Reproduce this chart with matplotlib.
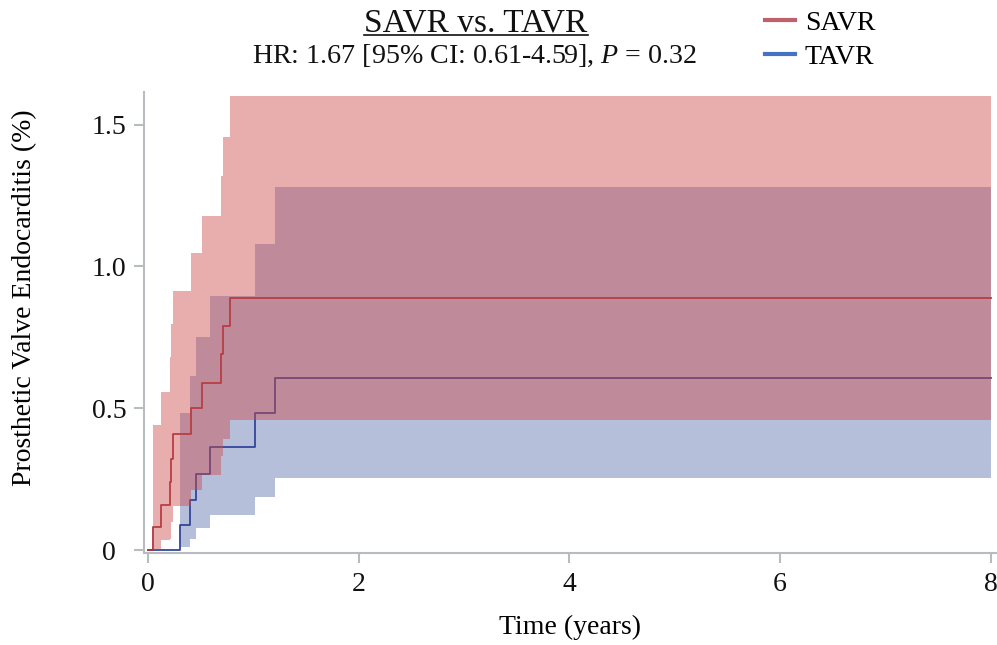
import matplotlib
matplotlib.use("Agg")
import matplotlib.pyplot as plt
from matplotlib.lines import Line2D

plt.rcParams['font.family'] = ['Liberation Serif', 'DejaVu Serif']
plt.rcParams['mathtext.fontset'] = 'custom'
plt.rcParams['mathtext.rm'] = 'Liberation Serif'
plt.rcParams['mathtext.it'] = 'Liberation Serif:italic'

# Kaplan-Meier style cumulative incidence (%) with 95% CI
savr_t = [0, 0.05, 0.12, 0.21, 0.22, 0.24, 0.41, 0.51, 0.69, 0.71, 0.78, 8.0]
savr_est = [0, 0.08, 0.16, 0.24, 0.32, 0.41, 0.50, 0.59, 0.69, 0.79, 0.89, 0.89]
savr_lo = [0, 0.005, 0.035, 0.04, 0.10, 0.155, 0.21, 0.265, 0.33, 0.39, 0.46, 0.46]
savr_hi = [0, 0.44, 0.556, 0.68, 0.797, 0.915, 1.046, 1.176, 1.32, 1.458, 1.60, 1.60]

tavr_t = [0, 0.30, 0.395, 0.455, 0.59, 1.015, 1.205, 8.0]
tavr_est = [0, 0.088, 0.176, 0.267, 0.364, 0.482, 0.606, 0.606]
tavr_lo = [0, 0.012, 0.038, 0.076, 0.123, 0.186, 0.255, 0.255]
tavr_hi = [0, 0.482, 0.615, 0.752, 0.896, 1.079, 1.279, 1.279]

xticks = [0, 2, 4, 6, 8]
yticks = [0, 0.5, 1.0, 1.5]
ytick_labels = ['0', '0.5', '1.0', '1.5']

red = '#cc4b4b'
blue = '#5f71ab'
gray = '#b8bcc0'

fig = plt.figure(figsize=(9.97, 6.45), dpi=100)
ax = fig.add_axes([0.1444, 0.1431, 0.8546, 0.7143])

# bands
ax.fill_between(tavr_t, tavr_lo, tavr_hi, step='post', color=blue, alpha=0.45, lw=0, zorder=1)
ax.step(tavr_t, tavr_est, where='post', color='#33469a', lw=1.3, zorder=2)
ax.step(savr_t, savr_est, where='post', color='#a83440', lw=1.3, zorder=2)
ax.fill_between(savr_t, savr_lo, savr_hi, step='post', color=red, alpha=0.45, lw=0, zorder=3)

ax.set_xlim(-0.04, 8.05)
ax.set_ylim(-0.0095, 1.615)
ax.set_xticks(xticks)
ax.set_yticks(yticks)
ax.set_yticklabels(ytick_labels)

for s in ['top', 'right']:
    ax.spines[s].set_visible(False)
for s in ['left', 'bottom']:
    ax.spines[s].set_color(gray)
    ax.spines[s].set_linewidth(1.5)

ax.tick_params(direction='out', length=7.2, width=1.5, color=gray,
               labelsize=20, labelcolor='#111111')
ax.tick_params(axis='x', pad=7)
ax.tick_params(axis='y', pad=18)
for lbl in ax.get_yticklabels():
    lbl.set_ha('center')

ax.set_ylabel('Prosthetic Valve Endocarditis (%)', fontsize=20, va='center')
ax.yaxis.set_label_coords(-0.1397, 0.553)
ax.set_xlabel('Time (years)', fontsize=20, va='center')
ax.xaxis.set_label_coords(0.5, -0.163)

# title block
title = fig.text(476 / 997, 1 - 32 / 645, 'SAVR vs. TAVR', ha='center', va='baseline',
                 fontsize=24, color='#111111')
fig.text(474 / 997, 1 - 63 / 645, r'HR: 1.67 [95% CI: 0.61-4.59], $\mathit{P}$ = 0.32',
         ha='center', va='baseline', fontsize=20.2, color='#111111')
fig.canvas.draw()
bb = title.get_window_extent(fig.canvas.get_renderer())
uy = 1 - 34.5 / 645
fig.add_artist(Line2D([bb.x0 / 997, bb.x1 / 997], [uy, uy],
                      transform=fig.transFigure, color='#111111', lw=1.2))

handles = [Line2D([], [], color='#c0606a', lw=3, label='SAVR'),
           Line2D([], [], color='#4472c4', lw=3, label='TAVR')]
fig.legend(handles=handles, loc='upper left', bbox_to_anchor=(745.5 / 997, 1 + 9 / 645),
           frameon=False, fontsize=20, handlelength=1.08, handletextpad=0.36,
           labelspacing=0.3, borderpad=0.2)

fig.savefig('out.png', dpi=100)
